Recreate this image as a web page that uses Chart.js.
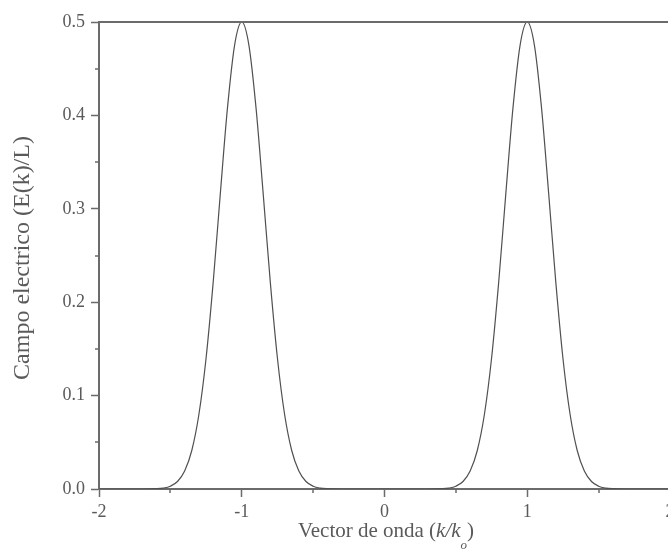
<!DOCTYPE html>
<html>
<head>
<meta charset="utf-8">
<script src="https://cdn.jsdelivr.net/npm/chart.js@4/dist/chart.umd.min.js"></script>
<style>
  html, body { margin: 0; padding: 0; background: #fff; overflow: hidden; }
  #wrap { width: 680px; height: 552px; position: relative; }
</style>
</head>
<body>
<div id="wrap"><canvas id="c"></canvas></div>
<script>
// Wave vector k/k0 and the field amplitude E(k)/L at each sample
const waveVector = [
  -2.00, -1.95, -1.90, -1.85, -1.80, -1.75, -1.70, -1.65, -1.60, -1.55,
  -1.50, -1.45, -1.40, -1.35, -1.30, -1.25, -1.20, -1.15, -1.10, -1.05,
  -1.00, -0.95, -0.90, -0.85, -0.80, -0.75, -0.70, -0.65, -0.60, -0.55,
  -0.50, -0.45, -0.40, -0.35, -0.30, -0.25, -0.20, -0.15, -0.10, -0.05,
   0.00,  0.05,  0.10,  0.15,  0.20,  0.25,  0.30,  0.35,  0.40,  0.45,
   0.50,  0.55,  0.60,  0.65,  0.70,  0.75,  0.80,  0.85,  0.90,  0.95,
   1.00,  1.05,  1.10,  1.15,  1.20,  1.25,  1.30,  1.35,  1.40,  1.45,
   1.50,  1.55,  1.60,  1.65,  1.70,  1.75,  1.80,  1.85,  1.90,  1.95,
   2.00
];
const fieldAmplitude = [
  0, 0, 0, 0, 0, 0, 0, 0.0001, 0.0003, 0.0010,
  0.0030, 0.0080, 0.0192, 0.0412, 0.0800, 0.1400, 0.2215, 0.3165, 0.4080, 0.4753,
  0.5000, 0.4753, 0.4080, 0.3165, 0.2215, 0.1400, 0.0800, 0.0412, 0.0192, 0.0080,
  0.0030, 0.0010, 0.0003, 0.0001, 0, 0, 0, 0, 0, 0,
  0, 0, 0, 0, 0, 0, 0, 0.0001, 0.0003, 0.0010,
  0.0030, 0.0080, 0.0192, 0.0412, 0.0800, 0.1400, 0.2215, 0.3165, 0.4080, 0.4753,
  0.5000, 0.4753, 0.4080, 0.3165, 0.2215, 0.1400, 0.0800, 0.0412, 0.0192, 0.0080,
  0.0030, 0.0010, 0.0003, 0.0001, 0, 0, 0, 0, 0, 0,
  0
];
const xMinorTicks = [-1.5, -0.5, 0.5, 1.5];
const yMinorTicks = [0.05, 0.15, 0.25, 0.35, 0.45];

const axisColor = '#6b6b6b';
const textColor = '#5a5a5a';
const serif = "'Liberation Serif', 'Times New Roman', serif";

// Minor ticks, top frame line and the axis titles
const decorations = {
  id: 'decorations',
  afterDraw(chart) {
    const ctx = chart.ctx;
    const { left, right, top, bottom } = chart.chartArea;
    const xs = chart.scales.x, ys = chart.scales.y;
    ctx.save();
    ctx.strokeStyle = axisColor;
    ctx.lineWidth = 2;
    ctx.beginPath();
    ctx.moveTo(left - 1, top);
    ctx.lineTo(right, top);
    ctx.stroke();
    ctx.lineWidth = 1.5;
    ctx.beginPath();
    xMinorTicks.forEach(v => {
      const px = Math.round(xs.getPixelForValue(v));
      ctx.moveTo(px, bottom);
      ctx.lineTo(px, bottom + 4);
    });
    yMinorTicks.forEach(v => {
      const py = Math.round(ys.getPixelForValue(v));
      ctx.moveTo(left, py);
      ctx.lineTo(left - 4, py);
    });
    ctx.stroke();

    // y title
    ctx.fillStyle = textColor;
    ctx.save();
    ctx.translate(23, 258);
    ctx.rotate(-Math.PI / 2);
    ctx.font = '24px ' + serif;
    ctx.textAlign = 'center';
    ctx.textBaseline = 'middle';
    ctx.fillText('Campo electrico (E(k)/L)', 0, 0);
    ctx.restore();

    // x title with italic k/k and subscript o
    const parts = [
      { t: 'Vector de onda (', f: '21px ' + serif, dy: 0 },
      { t: 'k/k', f: 'italic 21px ' + serif, dy: 0 },
      { t: 'o', f: 'italic 13px ' + serif, dy: 12 },
      { t: ')', f: '21px ' + serif, dy: 0 }
    ];
    let total = 0;
    parts.forEach(p => { ctx.font = p.f; p.w = ctx.measureText(p.t).width; total += p.w; });
    let x = 386 - total / 2;
    const base = 537;
    ctx.textAlign = 'left';
    ctx.textBaseline = 'alphabetic';
    parts.forEach(p => {
      ctx.font = p.f;
      ctx.fillText(p.t, x, base + p.dy);
      x += p.w;
    });
    ctx.restore();
  }
};

new Chart(document.getElementById('c'), {
  type: 'line',
  data: {
    datasets: [{
      data: waveVector.map((k, i) => ({ x: k, y: fieldAmplitude[i] })),
      borderColor: '#505050',
      borderWidth: 1.2,
      pointRadius: 0,
      fill: false,
      cubicInterpolationMode: 'monotone'
    }]
  },
  options: {
    responsive: true,
    maintainAspectRatio: false,
    animation: false,
    layout: { padding: { left: 0, right: 10, top: 22, bottom: 0 } },
    plugins: { legend: { display: false }, tooltip: { enabled: false } },
    scales: {
      x: {
        type: 'linear',
        min: -2, max: 2,
        grid: { drawOnChartArea: false, drawTicks: true, tickLength: 8, tickWidth: 1.5, color: axisColor },
        border: { color: axisColor, width: 2 },
        ticks: {
          stepSize: 1, padding: 4, color: textColor,
          font: { family: serif, size: 18 },
          callback: v => String(v)
        },
        afterFit(s) { s.height = 63; s.paddingLeft = 0; s.paddingRight = 0; }
      },
      y: {
        type: 'linear',
        min: 0, max: 0.5,
        grid: { drawOnChartArea: false, drawTicks: true, tickLength: 8, tickWidth: 1.5, color: axisColor },
        border: { color: axisColor, width: 2 },
        ticks: {
          stepSize: 0.1, padding: 6, color: textColor,
          font: { family: serif, size: 18 },
          callback: v => v.toFixed(1)
        },
        afterFit(s) { s.width = 99; s.paddingTop = 0; s.paddingBottom = 0; }
      }
    }
  },
  plugins: [decorations]
});
</script>
</body>
</html>
